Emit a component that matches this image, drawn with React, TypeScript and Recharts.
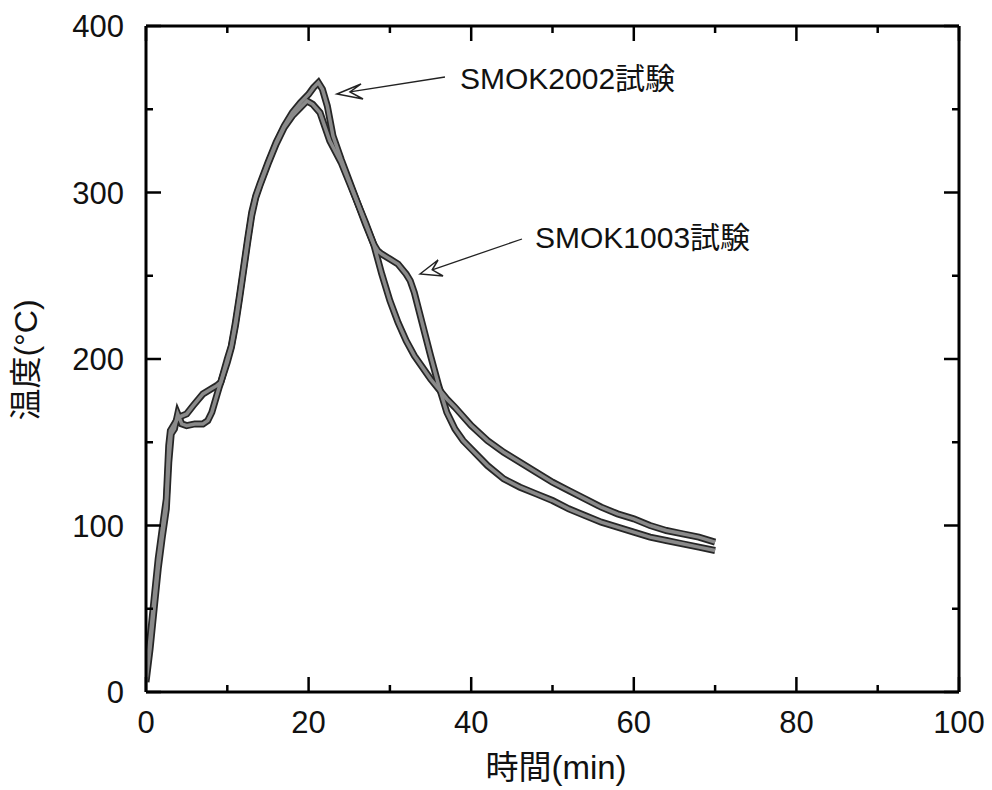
import { LineChart, Line, XAxis, YAxis, ReferenceLine } from 'recharts';

// time (min) / temperature (°C)
const smok2002Time = [0, 0.5, 1, 1.5, 2, 2.5, 2.8, 3, 3.5, 4, 5, 5.8, 7, 8, 8.7, 9.2, 10, 10.5, 11, 11.5, 12, 12.5, 13, 13.5, 14, 15, 16, 17, 18, 19, 20, 20.3, 20.6, 21.2, 21.7, 22.3, 23, 24, 25, 26, 27, 28, 29, 30, 31, 32, 33, 34, 35, 36, 37, 38, 40, 42, 44, 46, 48, 50, 52, 54, 56, 58, 60, 62, 64, 66, 68, 70];
const smok2002Temp = [10, 32, 56, 80, 98, 116, 148, 157, 161, 165, 167, 172, 179, 182, 184, 186, 200, 208, 222, 238, 255, 272, 288, 298, 305, 318, 330, 340, 348, 354, 359, 361, 363, 366, 362, 352, 334, 320, 307, 294, 282, 269, 251, 235, 222, 211, 202, 195, 188, 182, 176, 171, 160, 151, 144, 138, 132, 126, 121, 116, 111, 107, 104, 100, 97, 95, 93, 90];

const smok1003Time = [0, 0.5, 1, 1.5, 2, 2.5, 2.8, 3.1, 3.5, 3.9, 4.4, 5, 6, 7, 7.6, 8.1, 9, 10, 10.5, 11, 11.5, 12, 12.5, 13, 13.5, 14, 15, 16, 17, 18, 19, 19.8, 20.5, 21.4, 22.6, 24, 25, 26, 27, 28, 28.5, 29, 30, 31, 32, 32.5, 33, 34, 35, 36, 37, 38, 39, 40, 42, 44, 46, 48, 50, 52, 54, 56, 58, 60, 62, 64, 66, 68, 70];
const smok1003Temp = [6, 26, 50, 74, 93, 110, 138, 155, 158, 167, 161, 160, 161, 161, 163, 168, 183, 198, 207, 220, 236, 253, 270, 286, 297, 304, 317, 329, 339, 346, 351, 355, 353, 348, 331, 318, 306, 294, 281, 269, 265, 263, 260, 257, 251, 247, 240, 221, 202, 184, 168, 158, 151, 146, 136, 128, 123, 119, 115, 110, 106, 102, 99, 96, 93, 91, 89, 87, 85];

const xTicks = [0, 10, 20, 30, 40, 50, 60, 70, 80, 90, 100];
const yTicks = [0, 50, 100, 150, 200, 250, 300, 350, 400];

const smok2002 = smok2002Time.map((t, i) => ({ t, T: smok2002Temp[i] }));
const smok1003 = smok1003Time.map((t, i) => ({ t, T: smok1003Temp[i] }));

const W = 992;
const H = 790;
const LEFT = 146;
const RIGHT = 959;
const TOP = 26;
const BOTTOM = 692;
const FONT = '"Liberation Sans", Arial, "Noto Sans CJK JP", sans-serif';

// bottom axis tick also draws the matching inward tick on the top edge
const XTick = ({ x, payload }: any) => {
  const major = payload.value % 20 === 0;
  const len = major ? 15 : 7;
  return (
    <g>
      <line x1={x} x2={x} y1={BOTTOM} y2={BOTTOM - len} stroke="#000" strokeWidth={2.5} />
      <line x1={x} x2={x} y1={TOP} y2={TOP + len} stroke="#000" strokeWidth={2.5} />
      {major && (
        <text x={x} y={733} textAnchor="middle" fontSize={31} fontFamily={FONT} fill="#111">
          {payload.value}
        </text>
      )}
    </g>
  );
};

// left axis tick also draws the matching inward tick on the right edge
const YTick = ({ y, payload }: any) => {
  const major = payload.value % 100 === 0;
  const len = major ? 15 : 7;
  return (
    <g>
      <line x1={LEFT} x2={LEFT + len} y1={y} y2={y} stroke="#000" strokeWidth={2.5} />
      <line x1={RIGHT} x2={RIGHT - len} y1={y} y2={y} stroke="#000" strokeWidth={2.5} />
      {major && (
        <text x={124} y={y + 11} textAnchor="end" fontSize={31} fontFamily={FONT} fill="#111">
          {payload.value}
        </text>
      )}
    </g>
  );
};

const Arrow = ({ from, tip, b1, b2 }: any) => {
  const notch = [tip[0] + (from[0] - tip[0]) * 0.12, tip[1] + (from[1] - tip[1]) * 0.12];
  return (
    <g>
      <line x1={from[0]} y1={from[1]} x2={notch[0]} y2={notch[1]} stroke="#222" strokeWidth={1.3} />
      <path
        d={`M${tip[0]},${tip[1]} L${b1[0]},${b1[1]} L${notch[0]},${notch[1]} L${b2[0]},${b2[1]} Z`}
        fill="#fff"
        stroke="#222"
        strokeWidth={1.5}
      />
    </g>
  );
};

export default function App() {
  const series = [smok2002, smok1003];
  return (
    <div style={{ position: 'absolute', left: 0, top: 0, width: W, height: H, background: '#fff' }}>
      <LineChart width={W} height={H} margin={{ top: TOP, right: W - RIGHT, left: 0, bottom: 0 }}>
        <XAxis
          type="number"
          dataKey="t"
          domain={[0, 100]}
          ticks={xTicks}
          interval={0}
          height={H - BOTTOM}
          axisLine={{ stroke: '#000', strokeWidth: 3 }}
          tickLine={false}
          tick={<XTick />}
          allowDataOverflow
          label={{
            content: () => (
              <text x={556} y={779} textAnchor="middle" fontSize={33} fontFamily={FONT} fill="#111">
                時間(min)
              </text>
            ),
          }}
        />
        <YAxis
          type="number"
          dataKey="T"
          domain={[0, 400]}
          ticks={yTicks}
          interval={0}
          width={LEFT}
          axisLine={{ stroke: '#000', strokeWidth: 3 }}
          tickLine={false}
          tick={<YTick />}
          allowDataOverflow
          label={{
            content: () => (
              <text
                x={26}
                y={360}
                transform="rotate(-90, 26, 360)"
                textAnchor="middle"
                dominantBaseline="central"
                fontSize={32}
                fontFamily={FONT}
                fill="#111"
              >
                温度(°C)
              </text>
            ),
          }}
        />
        <ReferenceLine y={400} stroke="#000" strokeWidth={3} ifOverflow="extendDomain" />
        <ReferenceLine x={100} stroke="#000" strokeWidth={3} ifOverflow="extendDomain" />
        {series.map((d, i) => (
          <Line
            key={`o${i}`}
            data={d}
            dataKey="T"
            type="linear"
            stroke="#262626"
            strokeWidth={7}
            dot={false}
            activeDot={false}
            isAnimationActive={false}
          />
        ))}
        {series.map((d, i) => (
          <Line
            key={`i${i}`}
            data={d}
            dataKey="T"
            type="linear"
            stroke="#8a8a8a"
            strokeWidth={3.5}
            dot={false}
            activeDot={false}
            isAnimationActive={false}
          />
        ))}
      </LineChart>
      <svg width={W} height={H} style={{ position: 'absolute', left: 0, top: 0, pointerEvents: 'none' }}>
        <Arrow from={[445, 77]} tip={[337, 94]} b1={[361, 84]} b2={[363, 99]} />
        <text x={460} y={89} fontSize={30} fontFamily={FONT} fill="#111">
          SMOK2002試験
        </text>
        <Arrow from={[522, 239]} tip={[420, 274]} b1={[438, 260]} b2={[443, 276]} />
        <text x={535} y={248} fontSize={30} fontFamily={FONT} fill="#111">
          SMOK1003試験
        </text>
      </svg>
    </div>
  );
}
